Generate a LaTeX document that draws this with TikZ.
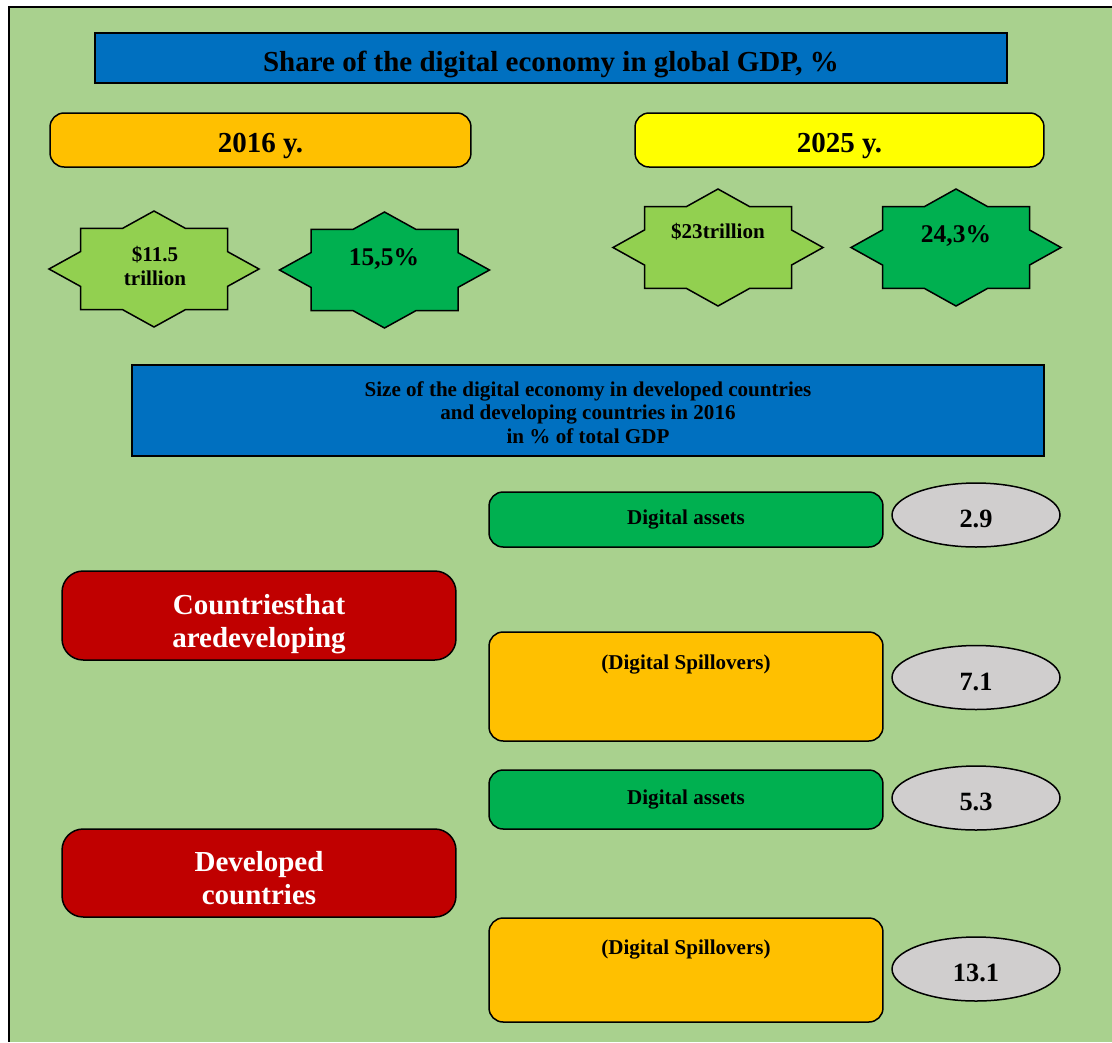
\documentclass[tikz,border=0pt]{standalone}
\usepackage{fontspec}
\setmainfont{Liberation Serif}
\usetikzlibrary{shapes.geometric}
\definecolor{bggreen}{HTML}{A9D18E}
\definecolor{capblue}{HTML}{0070C0}
\definecolor{amber}{HTML}{FFC000}
\definecolor{lemon}{HTML}{FFFF00}
\definecolor{lightleaf}{HTML}{92D050}
\definecolor{leaf}{HTML}{00B050}
\definecolor{brick}{HTML}{C00000}
\definecolor{pebble}{HTML}{D0CECE}
\def\octstar[#1](#2,#3)(#4,#5){\draw[#1,shift={(#2,#3)}] (#4,0) -- ({0.7*#4},{0.3*#5}) -- ({0.7*#4},{0.7*#5}) -- ({0.3*#4},{0.7*#5}) -- (0,#5) -- ({-0.3*#4},{0.7*#5}) -- ({-0.7*#4},{0.7*#5}) -- ({-0.7*#4},{0.3*#5}) -- (-#4,0) -- ({-0.7*#4},{-0.3*#5}) -- ({-0.7*#4},{-0.7*#5}) -- ({-0.3*#4},{-0.7*#5}) -- (0,-#5) -- ({0.3*#4},{-0.7*#5}) -- ({0.7*#4},{-0.7*#5}) -- ({0.7*#4},{-0.3*#5}) -- cycle;}

\begin{document}
\begin{tikzpicture}[x=0.02cm, y=-0.02cm,
		edge/.style={draw=black, line width=0.3mm},
		banner/.style={edge, fill=capblue, rectangle, font=\bfseries},
		tab/.style={edge, rounded corners=8, minimum width=7.88cm, font=\bfseries\fontsize{12}{13.5}\selectfont},
		big/.style={font=\bfseries\fontsize{16.5}{18}\selectfont},
		value/.style={edge, fill=pebble, ellipse, minimum width=3.36cm, minimum height=1.28cm, inner sep=0pt},
		valtext/.style={yshift=-0.08cm, font=\bfseries\fontsize{15}{16}\selectfont},
		group/.style={edge, fill=brick, rounded corners=12, minimum width=7.88cm},
		grouptext/.style={text=white, align=center, font=\bfseries\fontsize{16.5}{18.7}\selectfont}]
		%%%%% START %%%%%
		
		\useasboundingbox (0, 0) rectangle (1112, 1042);
		\fill[bggreen] (9, 7) rectangle (1112, 1042);
		\draw[line width=0.4mm] (1112, 7) -- (9, 7) -- (9, 1042);
		
		\node[banner, minimum width=18.24cm, minimum height=1cm, label={[big, yshift=-0.12cm]center:Share of the digital economy in global GDP, \%}] (title) at (551, 58) {};
		
		\node[tab, fill=amber, minimum width=8.42cm, minimum height=1.08cm, label={[big, yshift=-0.12cm]center:2016 y.}] (y2016) at (260.5, 140) {};
		\node[tab, fill=lemon, minimum width=8.18cm, minimum height=1.08cm, label={[big, yshift=-0.12cm]center:2025 y.}] (y2025) at (839.5, 140) {};
		
		\octstar[edge, fill=lightleaf](154, 269)(105, 58)
		\octstar[edge, fill=leaf](384.5, 270)(105, 58)
		\octstar[edge, fill=lightleaf](718, 247.5)(105, 58.5)
		\octstar[edge, fill=leaf](956, 247.5)(105, 58.5)
		\node[align=center, font=\bfseries\fontsize{12}{13.5}\selectfont] (vol2016) at (155, 266) {\$11.5\\trillion};
		\node[font=\bfseries\fontsize{14.5}{16}\selectfont] (pct2016) at (384, 259) {15,5\%};
		\node[font=\bfseries\fontsize{12}{13.5}\selectfont] (vol2025) at (718, 232) {\$23trillion};
		\node[font=\bfseries\fontsize{14.5}{16}\selectfont] (pct2025) at (956, 236) {24,3\%};
		
		\node[banner, minimum width=18.24cm, minimum height=1.82cm, label={[align=center, yshift=-0.04cm, font=\bfseries\fontsize{12}{13.3}\selectfont]center:Size of the digital economy in developed countries\\and developing countries in 2016\\in \% of total GDP}] (size) at (588, 410.5) {};
		
		\node[group, minimum height=1.78cm, label={[grouptext, yshift=-0.18cm]center:Countriesthat\\aredeveloping}] (developing) at (259, 615.5) {};
		\node[group, minimum height=1.76cm, label={[grouptext, yshift=-0.1cm]center:Developed\\countries}] (developed) at (259, 873) {};
		
		\node[tab, fill=leaf, minimum height=1.1cm] (assetsA) at (686, 519.5) {Digital assets};
		\node[tab, fill=amber, minimum height=2.18cm, label={[anchor=north, yshift=-0.35cm, font=\bfseries\fontsize{12}{13.5}\selectfont]north:(Digital Spillovers)}] (spillA) at (686, 686.5) {};
		\node[tab, fill=leaf, minimum height=1.18cm] (assetsB) at (686, 799.5) {Digital assets};
		\node[tab, fill=amber, minimum height=2.08cm, label={[anchor=north, yshift=-0.33cm, font=\bfseries\fontsize{12}{13.5}\selectfont]north:(Digital Spillovers)}] (spillB) at (686, 970) {};
		
		\node[value, label={[valtext]center:2.9}] (valA) at (976, 515) {};
		\node[value, label={[valtext]center:7.1}] (valB) at (976, 677.5) {};
		\node[value, label={[valtext]center:5.3}] (valC) at (976, 798) {};
		\node[value, label={[valtext]center:13.1}] (valD) at (976, 969) {};
		
		%%%%% END %%%%%
	\end{tikzpicture}
\end{document}
